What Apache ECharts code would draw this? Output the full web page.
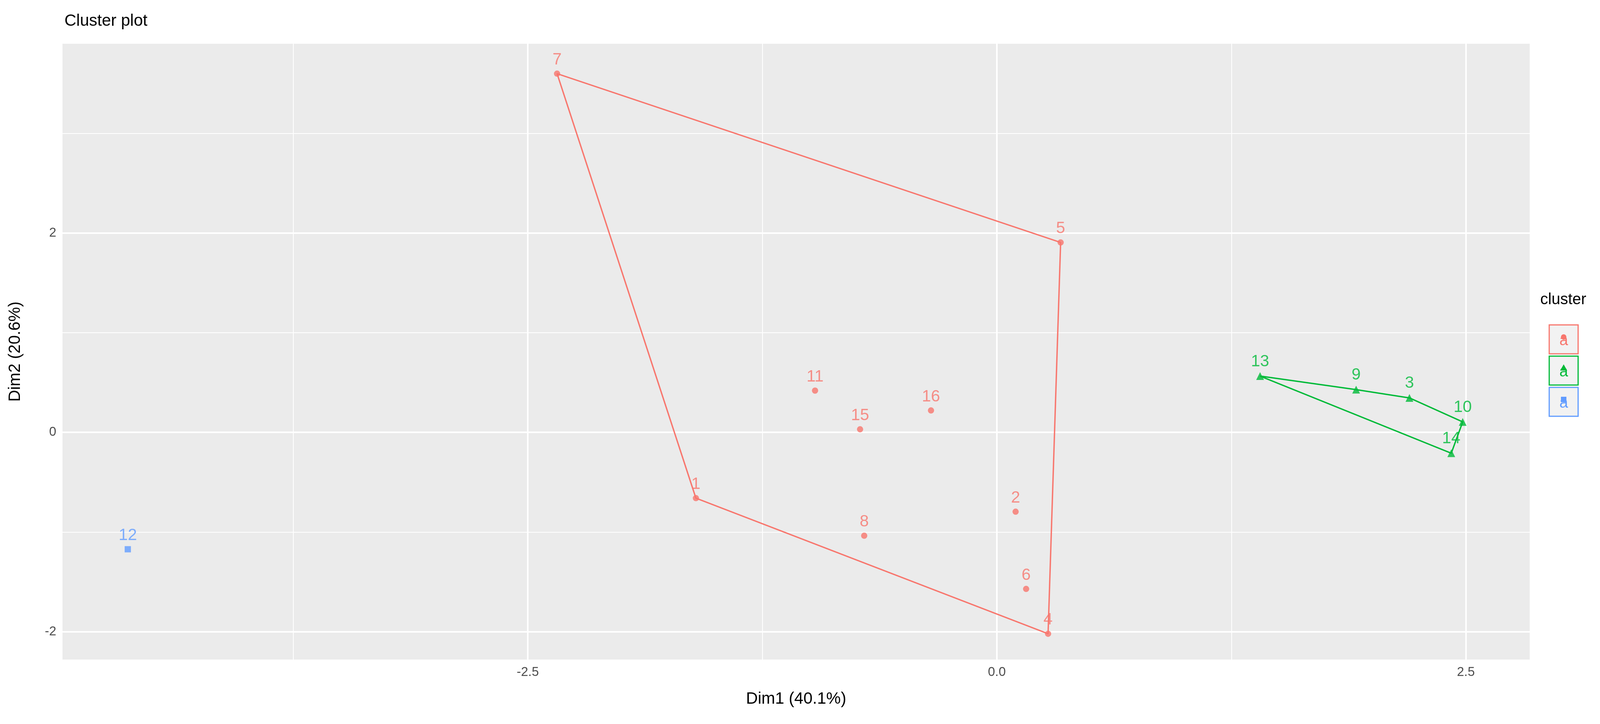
<!DOCTYPE html>
<html><head><meta charset="utf-8">
<script src="https://cdn.jsdelivr.net/npm/echarts@6/dist/echarts.min.js"></script>
<style>body{margin:0}#main{width:4191px;height:1854px}</style>
</head><body><div id="main"></div>
<script>
var names1 = ['7', '5', '11', '15', '16', '1', '8', '2', '6', '4'];
var x1 = [-2.344, 0.340, -0.969, -0.729, -0.351, -1.604, -0.707, 0.100, 0.156, 0.273];
var y1 = [3.60, 1.906, 0.419, 0.031, 0.220, -0.660, -1.037, -0.796, -1.571, -2.021];
var names2 = ['13', '9', '3', '10', '14'];
var x2 = [1.403, 1.915, 2.199, 2.483, 2.422];
var y2 = [0.565, 0.429, 0.346, 0.105, -0.209];
var names3 = ['12'];
var x3 = [-4.632];
var y3 = [-1.173];
var hull1 = ['7', '5', '4', '1', '7'];
var hull2 = ['13', '9', '3', '10', '14', '13'];
var xMajor = [-2.5, 0, 2.5], xMinor = [-3.75, -1.25, 1.25];
var yMajor = [-2, 0, 2], yMinor = [-1, 1, 3];
var colors = ['#F8766D', '#00BA38', '#619CFF'];

function pts(n, x, y) { return n.map(function (s, i) { return { name: s, value: [x[i], y[i]] }; }); }
function hull(order, n, x, y) { return order.map(function (s) { var i = n.indexOf(s); return [x[i], y[i]]; }); }

var gridLines = [];
xMinor.forEach(function (v) { gridLines.push({ xAxis: v, lineStyle: { width: 2 } }); });
yMinor.forEach(function (v) { gridLines.push({ yAxis: v, lineStyle: { width: 2 } }); });
xMajor.forEach(function (v) { gridLines.push({ xAxis: v, lineStyle: { width: 4 } }); });
yMajor.forEach(function (v) { gridLines.push({ yAxis: v, lineStyle: { width: 4 } }); });

var chart = echarts.init(document.getElementById('main'));
var font = 'Liberation Sans';
function scatter(data, color, sym, size) {
  return {
    type: 'scatter', data: data, symbol: sym, symbolSize: size, itemStyle: { color: color },
    label: { show: true, position: 'top', distance: 6, formatter: '{b}', color: color, fontSize: 42, fontFamily: font },
    zlevel: 1, z: 4
  };
}
var option = {
  backgroundColor: '#fff',
  animation: false,
  title: { text: 'Cluster plot', left: 160, top: 28, textStyle: { fontSize: 42, fontWeight: 'normal', fontFamily: font, color: '#000' } },
  grid: { left: 160, right: 275, top: 112, bottom: 165, backgroundColor: '#EBEBEB', show: true, borderWidth: 0 },
  xAxis: {
    type: 'value', min: -4.98, max: 2.84, splitLine: { show: false },
    axisLine: { show: false }, axisTick: { show: true, customValues: xMajor, length: 8, lineStyle: { color: '#333', width: 3 } },
    axisLabel: { customValues: xMajor, formatter: function (v) { return v.toFixed(1); }, fontSize: 33, color: '#4D4D4D', fontFamily: font, margin: 16 },
    name: 'Dim1 (40.1%)', nameLocation: 'middle', nameGap: 80, nameTextStyle: { fontSize: 42, fontFamily: font, color: '#000' }
  },
  yAxis: {
    type: 'value', min: -2.28, max: 3.90, splitLine: { show: false },
    axisLine: { show: false }, axisTick: { show: true, customValues: yMajor, length: 8, lineStyle: { color: '#333', width: 3 } },
    axisLabel: { customValues: yMajor, fontSize: 33, color: '#4D4D4D', fontFamily: font, margin: 16 },
    name: 'Dim2 (20.6%)', nameLocation: 'middle', nameGap: 100, nameRotate: 90, nameTextStyle: { fontSize: 42, fontFamily: font, color: '#000' }
  },
  series: [
    { type: 'line', data: [], markLine: { silent: true, symbol: 'none', label: { show: false }, lineStyle: { color: '#fff', type: 'solid' }, data: gridLines }, z: 1 },
    { type: 'line', data: hull(hull1, names1, x1, y1), symbol: 'none', lineStyle: { color: colors[0], width: 3.5 }, zlevel: 1, z: 3 },
    { type: 'line', data: hull(hull2, names2, x2, y2), symbol: 'none', lineStyle: { color: colors[1], width: 3.5 }, zlevel: 1, z: 3 },
    scatter(pts(names1, x1, y1), colors[0], 'circle', 16),
    scatter(pts(names2, x2, y2), colors[1], 'triangle', 20),
    scatter(pts(names3, x3, y3), colors[2], 'rect', 16)
  ],
  graphic: [
    { type: 'text', left: 3943, top: 748, style: { text: 'cluster', fontSize: 40, fontFamily: font, fill: '#000' } }
  ]
};
var keyY = [869, 949, 1029];
keyY.forEach(function (yy, i) {
  option.graphic.push(
    { type: 'rect', shape: { x: 3966, y: yy - 37, width: 74, height: 74 }, style: { fill: '#F2F2F2', stroke: colors[i], lineWidth: 3 } },
    { type: 'text', style: { x: 4003, y: yy + 4, text: 'a', fontSize: 40, fontFamily: font, fill: colors[i], align: 'center', verticalAlign: 'middle' } },
    { type: 'text', style: { x: 4100, y: yy, text: String(i + 1), fontSize: 32, fontFamily: font, fill: '#000', verticalAlign: 'middle' } }
  );
});
option.graphic.push(
  { type: 'circle', shape: { cx: 4003, cy: keyY[0] - 6, r: 7 }, style: { fill: colors[0] } },
  { type: 'polygon', shape: { points: [[4003, keyY[1] - 16], [3994, keyY[1]], [4012, keyY[1]]] }, style: { fill: colors[1] } },
  { type: 'rect', shape: { x: 3996, y: keyY[2] - 13, width: 14, height: 14 }, style: { fill: colors[2] } }
);
chart.setOption(option);
</script></body></html>
